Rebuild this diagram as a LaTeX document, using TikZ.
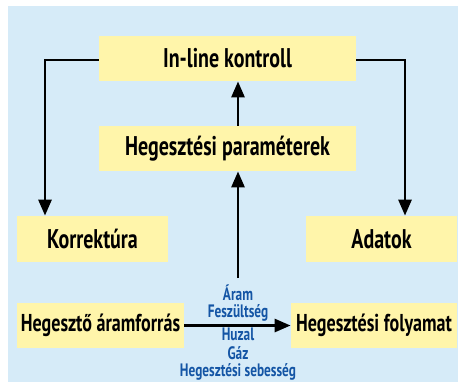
\documentclass[tikz,border=0pt]{standalone}
\usepackage{fontspec}
\setmainfont{PT Sans}[FakeStretch=0.74]
\usetikzlibrary{arrows.meta}
\definecolor{hatter}{RGB}{214,235,248}
\definecolor{doboz}{RGB}{255,245,170}
\definecolor{kek}{RGB}{20,85,165}

\begin{document}
\begin{tikzpicture}[x=0.5pt,y=-0.5pt,
    box/.style={fill=doboz, inner sep=0pt, font=\bfseries\fontsize{13.5}{15}\selectfont},
    wide/.style={box, minimum width=128.5pt, minimum height=22.5pt},
    small/.style={box, minimum width=75.5pt, minimum height=23pt},
    low/.style={box, minimum height=22.5pt, font=\bfseries\fontsize{12.2}{14}\selectfont},
    arr/.style={line width=1.4pt, -{Triangle[length=8pt,width=6.5pt]}},
    par/.style={text=kek, inner sep=0pt, font=\bfseries\fontsize{9}{10.5}\selectfont}]
    \useasboundingbox (0,0) rectangle (458,382);
    \fill [hatter] (8,6) rectangle (458,382);

    % boxes
    \node [wide] (ctrl) at (227.5,58.5) {In-line kontroll};
    \node [wide] (param) at (227.5,148.5) {Hegesztési paraméterek};
    \node [small] (korr) at (92.5,239) {Korrektúra};
    \node [small] (adat) at (381.5,239) {Adatok};
    \node [low, minimum width=83.5pt] (forras) at (100.5,325.5) {Hegesztő áramforrás};
    \node [low, minimum width=83pt] (folyamat) at (374,325.5) {Hegesztési folyamat};

    % parameters
    \node [par] (aram) at (238,293) {Áram};
    \node [par] (fesz) at (238,313) {Feszültség};
    \node [par] (huzal) at (238,334) {Huzal};
    \node [par] (gaz) at (238,353) {Gáz};
    \node [par] (sebes) at (238,372) {Hegesztési sebesség};

    \coordinate (kbend) at (45,60);
    \coordinate (abend) at (405,60);
    \coordinate (mid) at (238,278);

    \draw [arr] (ctrl.west |- kbend) -- (kbend) -- (kbend |- korr.north);
    \draw [arr] (ctrl.east |- abend) -- (abend) -- (abend |- adat.north);
    \draw [arr] (mid) -- (mid |- param.south);
    \draw [arr] (param.north -| mid) -- (ctrl.south -| mid);
    \draw [arr] (forras.east) -- (folyamat.west);
\end{tikzpicture}
\end{document}
